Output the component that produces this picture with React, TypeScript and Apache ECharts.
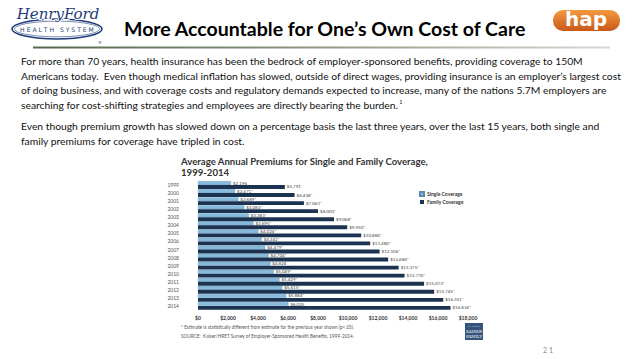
import React, { useEffect, useRef } from "react";
import * as echarts from "echarts";

const years = ["1999","2000","2001","2002","2003","2004","2005","2006","2007","2008","2009","2010","2011","2012","2013","2014"];
const singleValues = [2196, 2471, 2689, 3083, 3383, 3695, 4024, 4242, 4479, 4704, 4824, 5049, 5429, 5615, 5884, 6025];
const familyValues = [5791, 6438, 7061, 8003, 9068, 9950, 10880, 11480, 12106, 12680, 13375, 13770, 15073, 15745, 16351, 16834];
const singleStar = [false, true, true, true, true, true, true, true, true, true, false, true, true, true, true, false];
const familyStar = [false, true, true, true, true, true, true, true, true, true, true, true, true, true, true, true];
const seriesNames = ["Single Coverage", "Family Coverage"];
const xMin = 0;
const xMax = 18000;
const xStep = 2000;

const headerTitle = "More Accountable for One\u2019s Own Cost of Care";
const paragraph1 = [
  "For more than 70 years, health insurance has been the bedrock of employer-sponsored benefits, providing coverage to 150M",
  "Americans today.  Even though medical inflation has slowed, outside of direct wages, providing insurance is an employer\u2019s largest cost",
  "of doing business, and with coverage costs and regulatory demands expected to increase, many of the nations 5.7M employers are",
  "searching for cost-shifting strategies and employees are directly bearing the burden.{sup|1}",
];
const paragraph2 = [
  "Even though premium growth has slowed down on a percentage basis the last three years, over the last 15 years, both single and",
  "family premiums for coverage have tripled in cost.",
];
const chartTitle = ["Average Annual Premiums for Single and Family Coverage,", "1999-2014"];
const footnotes = [
  "* Estimate is statistically different from estimate for the previous year shown (p<.05).",
  "SOURCE:  Kaiser/HRET Survey of Employer-Sponsored Health Benefits, 1999-2014.",
];
const pageNumber = "2 1";

const money = (v: number) => "$" + v.toLocaleString("en-US");

export default function App() {
  const ref = useRef<HTMLDivElement>(null);
  useEffect(() => {
    if (!ref.current) return;
    const chart = echarts.init(ref.current, null, { renderer: "svg" });
    const bodyFont = "Lato";
    const graphics: any[] = [];

    // Henry Ford logo
    graphics.push(
      { type: "ellipse", shape: { cx: 57, cy: 29, rx: 45, ry: 10 }, style: { fill: "#fff", stroke: "#1e3c78", lineWidth: 1.6 } },
      { type: "ellipse", shape: { cx: 57, cy: 29, rx: 42.5, ry: 7.8 }, style: { fill: "none", stroke: "#1e3c78", lineWidth: 0.6 } },
      { type: "text", x: 58, y: 13.5, style: { text: "HenryFord", fontFamily: "DejaVu Serif", fontStyle: "italic", fontSize: 15, fill: "#1e3c78", align: "center", verticalAlign: "middle", stroke: "#fff", lineWidth: 2 } },
      { type: "text", x: 57, y: 29.5, style: { text: "H E A L T H   S Y S T E M", fontFamily: "DejaVu Sans", fontSize: 6.1, fill: "#1e3c78", align: "center", verticalAlign: "middle" } },
      { type: "text", x: 100, y: 42, style: { text: "\u00ae", fontFamily: "DejaVu Sans", fontSize: 4, fill: "#1e3c78", align: "center", verticalAlign: "middle" } }
    );
    // hap logo
    graphics.push(
      { type: "rect", shape: { x: 553, y: 10, width: 67, height: 21, r: 10 }, style: { fill: new echarts.graphic.LinearGradient(0, 0, 0, 1, [ { offset: 0, color: "#f39a3c" }, { offset: 1, color: "#c9581b" } ]) } },
      { type: "text", x: 586, y: 19, style: { text: "hap", fontFamily: "DejaVu Sans", fontWeight: "bold", fontSize: 20, fill: "#fff", align: "center", verticalAlign: "middle" } }
    );
    // header title
    graphics.push({ type: "text", x: 124, y: 28, style: { text: headerTitle, fontFamily: bodyFont, fontWeight: "bold", fontSize: 19.5, fill: "#000", verticalAlign: "middle" } });
    // header line
    graphics.push({ type: "rect", shape: { x: 33, y: 46.5, width: 577, height: 2 }, style: { fill: new echarts.graphic.LinearGradient(0, 0, 1, 0, [ { offset: 0, color: "#56684a" }, { offset: 0.5, color: "#8e9984" }, { offset: 1, color: "#d6d9d2" } ]) } });

    // paragraphs
    const pSize = 10.3;
    const lineY1 = [61, 75.5, 90, 104.5];
    paragraph1.forEach((t, i) => {
      graphics.push({ type: "text", x: 21, y: lineY1[i], style: { text: t, fontFamily: bodyFont, fontSize: pSize, fill: "#111", verticalAlign: "middle", rich: { sup: { fontSize: 5.5, fontFamily: bodyFont, fill: "#111", verticalAlign: "top", padding: [0, 0, 5, 1] } } } });
    });
    const lineY2 = [126, 140.5];
    paragraph2.forEach((t, i) => {
      graphics.push({ type: "text", x: 21, y: lineY2[i], style: { text: t, fontFamily: bodyFont, fontSize: pSize, fill: "#111", verticalAlign: "middle" } });
    });

    // chart title
    graphics.push({ type: "text", x: 181, y: 161.5, style: { text: chartTitle[0], fontFamily: bodyFont, fontWeight: "bold", fontSize: 9.6, fill: "#333", verticalAlign: "middle" } });
    graphics.push({ type: "text", x: 181, y: 172.5, style: { text: chartTitle[1], fontFamily: bodyFont, fontWeight: "bold", fontSize: 9.6, fill: "#333", verticalAlign: "middle" } });

    // footnotes
    footnotes.forEach((t, i) => {
      graphics.push({ type: "text", x: 181, y: 327 + i * 9, style: { text: t, fontFamily: bodyFont, fontSize: 4.7, fill: "#555", verticalAlign: "middle" } });
    });

    // Kaiser logo
    graphics.push(
      { type: "rect", shape: { x: 465, y: 323, width: 18, height: 17 }, style: { fill: "#34527a" } },
      { type: "text", x: 474, y: 326, style: { text: "THE HENRY J.", fontFamily: "DejaVu Serif", fontSize: 1.8, fill: "#dfe6ef", align: "center", verticalAlign: "middle" } },
      { type: "text", x: 474, y: 331, style: { text: "KAISER", fontFamily: "DejaVu Serif", fontSize: 4, fill: "#fff", align: "center", verticalAlign: "middle" } },
      { type: "text", x: 474, y: 336, style: { text: "FAMILY", fontFamily: "DejaVu Serif", fontSize: 4, fill: "#fff", align: "center", verticalAlign: "middle" } }
    );

    // page number
    graphics.push({ type: "text", x: 548, y: 350, style: { text: pageNumber, fontFamily: bodyFont, fontSize: 7, fill: "#8a8a8a", align: "center", verticalAlign: "middle" } });

    const valueLabel = (stars: boolean[]) => ({
      show: true,
      position: "right",
      distance: 2,
      fontFamily: bodyFont,
      fontSize: 4.5,
      color: "#444",
      formatter: (p: any) => money(p.value) + (stars[p.dataIndex] ? "*" : ""),
    });

    chart.setOption({
      animation: false,
      backgroundColor: "#fff",
      grid: { left: 198, width: 270, top: 181, height: 129, containLabel: false },
      legend: {
        data: seriesNames,
        orient: "vertical",
        left: 414,
        top: 186,
        itemWidth: 4,
        itemHeight: 4,
        itemGap: 2.5,
        icon: "rect",
        textStyle: { fontFamily: bodyFont, fontSize: 5, fontWeight: "bold", color: "#333", padding: [0, 0, 0, -2] },
      },
      xAxis: {
        type: "value",
        min: xMin,
        max: xMax,
        interval: xStep,
        axisLine: { show: false },
        axisTick: { show: false },
        splitLine: { show: false },
        axisLabel: { formatter: (v: number) => money(v), fontFamily: bodyFont, fontSize: 5, fontWeight: "bold", color: "#333", margin: 5 },
      },
      yAxis: {
        type: "category",
        data: years,
        inverse: true,
        axisLine: { show: false },
        axisTick: { show: false },
        axisLabel: { fontFamily: bodyFont, fontSize: 5, color: "#555", margin: 19 },
      },
      series: [
        {
          name: seriesNames[0],
          type: "bar",
          data: singleValues,
          barWidth: 3.9,
          barGap: "0%",
          itemStyle: { color: "#86bbdc", borderColor: "#5b8db0", borderWidth: 0.3 },
          label: valueLabel(singleStar),
        },
        {
          name: seriesNames[1],
          type: "bar",
          data: familyValues,
          barWidth: 3.9,
          barGap: "0%",
          itemStyle: { color: "#1b3350" },
          label: valueLabel(familyStar),
        },
      ],
      graphic: graphics,
    });
    return () => chart.dispose();
  }, []);
  return <div ref={ref} style={{ position: "fixed", left: 0, top: 0, width: 638, height: 359, background: "#fff" }} />;
}
